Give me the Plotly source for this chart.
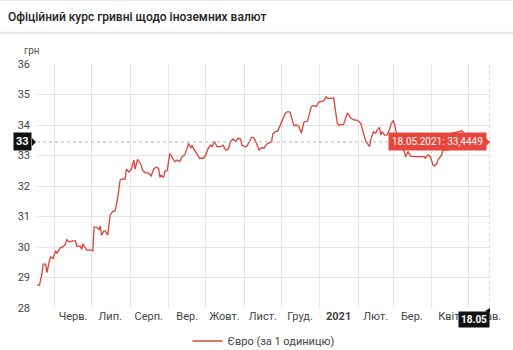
import plotly.graph_objects as go

dates = [
"2020-05-18","2020-05-20","2020-05-22","2020-05-23","2020-05-25","2020-05-26","2020-05-28","2020-05-29","2020-05-31",
"2020-06-02","2020-06-03","2020-06-06","2020-06-08","2020-06-10","2020-06-11","2020-06-13","2020-06-16","2020-06-18",
"2020-06-19","2020-06-22","2020-06-23","2020-06-24","2020-06-26","2020-06-27",
"2020-07-01","2020-07-02","2020-07-03","2020-07-05","2020-07-07","2020-07-08","2020-07-09","2020-07-11","2020-07-12",
"2020-07-14","2020-07-16","2020-07-18","2020-07-20","2020-07-22","2020-07-24","2020-07-26","2020-07-28","2020-07-29","2020-07-31",
"2020-08-02","2020-08-04","2020-08-05","2020-08-07","2020-08-08","2020-08-10","2020-08-11","2020-08-13","2020-08-16",
"2020-08-18","2020-08-20","2020-08-22","2020-08-24","2020-08-25","2020-08-26","2020-08-28","2020-08-29","2020-08-31",
"2020-09-02","2020-09-05","2020-09-06","2020-09-08","2020-09-10","2020-09-12","2020-09-14","2020-09-16","2020-09-17",
"2020-09-19","2020-09-20","2020-09-21","2020-09-24","2020-09-26","2020-09-29",
"2020-10-01","2020-10-03","2020-10-05","2020-10-06","2020-10-08","2020-10-10","2020-10-13","2020-10-15","2020-10-17",
"2020-10-19","2020-10-21","2020-10-23","2020-10-25","2020-10-27","2020-10-29","2020-10-30",
"2020-11-01","2020-11-03","2020-11-05","2020-11-07","2020-11-09","2020-11-11","2020-11-13","2020-11-15","2020-11-17",
"2020-11-19","2020-11-21","2020-11-23","2020-11-24","2020-11-26","2020-11-28","2020-11-30",
"2020-12-03","2020-12-04","2020-12-06","2020-12-08","2020-12-10","2020-12-11","2020-12-13","2020-12-15","2020-12-17",
"2020-12-19","2020-12-20","2020-12-22","2020-12-25","2020-12-27","2020-12-29","2020-12-31",
"2021-01-02","2021-01-04","2021-01-06","2021-01-07","2021-01-10","2021-01-12","2021-01-15","2021-01-16","2021-01-20",
"2021-01-23","2021-01-24","2021-01-26","2021-01-29","2021-01-31",
"2021-02-02","2021-02-03","2021-02-05","2021-02-07","2021-02-10","2021-02-11","2021-02-13","2021-02-15","2021-02-16",
"2021-02-18","2021-02-19","2021-02-20","2021-02-22","2021-02-24","2021-02-26","2021-02-27",
"2021-03-01","2021-03-02","2021-03-04","2021-03-06","2021-03-10","2021-03-11","2021-03-13","2021-03-15","2021-03-18",
"2021-03-23","2021-03-26","2021-03-27","2021-03-29","2021-03-31",
"2021-04-02","2021-04-03","2021-04-05","2021-04-06","2021-04-09","2021-04-10","2021-04-14","2021-04-17","2021-04-21",
"2021-04-23","2021-04-25","2021-04-26","2021-04-29",
"2021-05-04","2021-05-11","2021-05-18",
]

eur = [
28.75,28.75,29.14,29.44,29.44,29.16,29.55,29.68,29.62,
29.88,29.79,29.99,30.00,30.10,30.25,30.16,30.20,30.20,
30.03,30.03,29.92,30.10,29.96,29.90,
29.90,29.88,30.65,30.65,30.56,30.69,30.39,30.53,30.53,
30.39,31.05,31.16,31.19,31.60,32.20,32.23,32.23,32.55,32.46,
32.55,32.85,32.55,32.87,32.80,32.69,32.52,32.44,32.42,
32.33,32.55,32.62,32.58,32.28,32.36,32.28,32.47,32.52,
33.07,32.85,32.80,32.85,32.80,32.97,33.02,33.24,33.40,
33.24,33.34,33.24,33.02,32.91,32.91,
33.02,33.24,33.34,33.29,33.46,33.29,33.29,33.34,33.18,
33.20,33.46,33.54,33.46,33.57,33.54,33.34,
33.29,33.29,33.46,33.60,33.57,33.34,33.18,33.26,33.24,
33.37,33.42,33.46,33.70,33.78,33.80,33.98,
34.27,34.38,34.44,34.42,34.11,33.98,34.00,33.95,33.73,
34.09,34.11,34.13,34.60,34.64,34.60,34.75,
34.77,34.79,34.93,34.87,34.87,34.89,34.05,34.00,34.02,
34.38,34.35,34.22,34.16,34.16,
34.09,34.05,33.73,33.46,33.29,33.53,33.78,33.73,33.84,
33.92,33.67,33.78,33.67,33.67,33.84,34.00,
34.15,34.03,33.67,33.35,33.13,32.95,33.13,32.98,32.96,
32.96,32.96,32.91,33.02,32.96,
32.69,32.66,32.72,32.85,33.02,33.18,33.18,33.73,33.75,
33.78,33.82,33.78,33.60,
33.55,33.50,33.4449,
]

month_starts = ["2020-06-01","2020-07-01","2020-08-01","2020-09-01","2020-10-01","2020-11-01",
                "2020-12-01","2021-01-01","2021-02-01","2021-03-01","2021-04-01","2021-05-01"]
label_pos = ["2020-06-16","2020-07-16","2020-08-16","2020-09-16","2020-10-16","2020-11-16",
             "2020-12-16","2021-01-16","2021-02-15","2021-03-16","2021-04-16","2021-05-16"]
month_labels = ["Черв.","Лип.","Серп.","Вер.","Жовт.","Лист.","Груд.","<b>2021</b>","Лют.","Бер.","Квіт.","Трав."]
y_ticks = [28, 29, 30, 31, 32, 33, 34, 35, 36]

last_date = dates[-1]
last_val = eur[-1]

RED = "#db4437"
GRID = "#e6e6e6"
FONT = "Roboto"

fig = go.Figure()
fig.add_trace(go.Scatter(
    x=dates, y=eur, mode="lines", name="Євро (за 1 одиницю)",
    line=dict(color=RED, width=1.3), hoverinfo="skip",
))

fig.update_layout(
    width=513, height=350,
    margin=dict(l=37, r=23, t=64, b=42, autoexpand=False),
    paper_bgcolor="white", plot_bgcolor="white",
    font=dict(family=FONT, size=11, color="#444"),
    title=dict(text="Офіційний курс гривні щодо іноземних валют",
               x=8/513, xanchor="left", y=1-17/350, yanchor="middle",
               font=dict(family=FONT, size=12, color="#222", weight=500)),
    showlegend=True,
    legend=dict(orientation="h", x=0.5, xanchor="center", y=(308-341)/244, yanchor="middle",
                font=dict(size=11, color="#444"), itemwidth=30),
    hovermode=False,
)

fig.update_xaxes(
    type="date", range=[dates[0], last_date],
    tickvals=label_pos, ticktext=month_labels,
    showgrid=False, zeroline=False, showline=False, ticks="",
    tickfont=dict(size=11, color="#444"),
    minor=dict(tickvals=month_starts, showgrid=True, gridcolor=GRID, gridwidth=1, ticks=""),
)
fig.update_yaxes(
    range=[28, 36], tickvals=y_ticks, showgrid=True, gridcolor=GRID, gridwidth=1,
    zeroline=False, showline=False, ticks="", ticklabelstandoff=6,
    tickfont=dict(size=11, color="#444"),
)

# separators
fig.add_shape(type="line", xref="paper", yref="paper", x0=-37/453, x1=476/453,
              y0=(308-33)/244, y1=(308-33)/244, line=dict(color="#e8e8e8", width=2.5))
fig.add_shape(type="line", xref="paper", yref="paper", x0=-37/453, x1=476/453,
              y0=(308-0.5)/244, y1=(308-0.5)/244, line=dict(color="#ececec", width=1))

# crosshair
fig.add_shape(type="line", xref="paper", yref="y", x0=0, x1=1, y0=last_val, y1=last_val,
              line=dict(color="#b5b5b5", width=1, dash="dot"))
fig.add_shape(type="line", xref="x", yref="paper", x0=last_date, x1=last_date, y0=0, y1=1,
              line=dict(color="#b5b5b5", width=1, dash="dot"))

# unit label
fig.add_annotation(text="грн", xref="paper", yref="paper", x=-15/453, y=(308-50)/244,
                   xanchor="left", yanchor="middle", showarrow=False,
                   font=dict(size=10, color="#555"))

# y crosshair label
fig.add_annotation(text="<b>33</b>", xref="paper", yref="y", x=0, y=last_val,
                   xanchor="right", yanchor="middle", xshift=-5, showarrow=False,
                   bgcolor="#111", borderpad=2, font=dict(size=11, color="white"))
fig.add_shape(type="path", xref="paper", yref="y", xsizemode="pixel", ysizemode="pixel",
              xanchor=0, yanchor=last_val, path="M -5,4 L -1,0 L -5,-4 Z",
              fillcolor="#111", line=dict(width=0))

# x crosshair label
fig.add_annotation(text="<b>18.05</b>", xref="x", yref="paper", x=last_date, y=0,
                   xanchor="right", yanchor="top", yshift=-3, showarrow=False,
                   bgcolor="#111", borderpad=2, font=dict(size=10, color="white"))
fig.add_shape(type="path", xref="x", yref="paper", xsizemode="pixel", ysizemode="pixel",
              xanchor=last_date, yanchor=0, path="M -5,-3 L 0,0 L 0,-5 Z",
              fillcolor="#111", line=dict(width=0))

# tooltip
fig.add_annotation(text="18.05.2021: 33,4449", xref="x", yref="y", x=last_date, y=last_val,
                   xanchor="right", yanchor="middle", xshift=-3, showarrow=False,
                   bgcolor="#e8463c", borderpad=3, font=dict(size=10, color="white"))
fig.add_shape(type="path", xref="x", yref="y", xsizemode="pixel", ysizemode="pixel",
              xanchor=last_date, yanchor=last_val, path="M -4,4 L 0,0 L -4,-4 Z",
              fillcolor="#e8463c", line=dict(width=0))

fig.write_html("out.html")
